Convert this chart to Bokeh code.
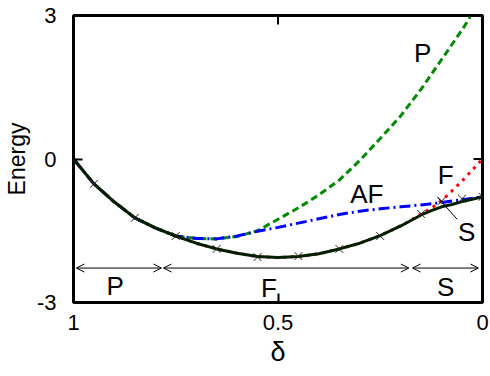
from bokeh.plotting import figure
from bokeh.models import Range1d, FixedTicker, Arrow, OpenHead, ColumnDataSource
from bokeh.embed import file_html
from bokeh.resources import INLINE
from bokeh.core.properties import value

# ---------------- data ----------------
x_tick_values = [1, 0.5, 0]
x_tick_labels = ["1", "0.5", "0"]
y_tick_values = [-3, 0, 3]
y_tick_labels = ["-3", "0", "3"]

# S phase energy (black solid)
delta_S = [1.0, 0.95, 0.9, 0.85, 0.8, 0.75, 0.7, 0.65, 0.6, 0.55, 0.5, 0.45,
           0.4, 0.35, 0.3, 0.25, 0.2, 0.15, 0.125, 0.1, 0.075, 0.05, 0.025, 0.0]
E_S = [0.0, -0.52, -0.90, -1.23, -1.44, -1.61, -1.76, -1.88, -1.97, -2.04, -2.06, -2.04,
       -1.98, -1.88, -1.76, -1.60, -1.40, -1.17, -1.08, -1.00, -0.95, -0.89, -0.84, -0.79]

# F phase energy (red dotted)
delta_F = [1.0, 0.95, 0.9, 0.85, 0.8, 0.75, 0.7, 0.65, 0.6, 0.55, 0.5, 0.45,
           0.4, 0.35, 0.3, 0.25, 0.2, 0.175, 0.15, 0.125, 0.1, 0.075, 0.05, 0.025, 0.0]
E_F = [0.0, -0.52, -0.90, -1.23, -1.44, -1.61, -1.76, -1.88, -1.97, -2.04, -2.06, -2.04,
       -1.98, -1.88, -1.76, -1.60, -1.40, -1.28, -1.15, -1.03, -0.87, -0.67, -0.46, -0.23, 0.0]

# P phase energy (green dashed)
delta_P = [1.0, 0.95, 0.9, 0.85, 0.8, 0.75, 0.7, 0.65, 0.6, 0.55, 0.5, 0.45,
           0.4, 0.35, 0.3, 0.25, 0.2, 0.15, 0.1, 0.05, 0.03]
E_P = [0.0, -0.52, -0.90, -1.23, -1.44, -1.61, -1.66, -1.67, -1.62, -1.50, -1.26, -1.02,
       -0.75, -0.44, -0.03, 0.43, 0.90, 1.46, 2.08, 2.70, 2.97]

# AF phase energy (blue dash-dot)
delta_AF = [1.0, 0.95, 0.9, 0.85, 0.8, 0.75, 0.7, 0.65, 0.6, 0.55, 0.5, 0.45,
            0.4, 0.35, 0.3, 0.25, 0.2, 0.15, 0.1, 0.05, 0.0]
E_AF = [0.0, -0.52, -0.90, -1.23, -1.44, -1.61, -1.66, -1.67, -1.61, -1.51, -1.43, -1.34,
        -1.25, -1.16, -1.09, -1.04, -1.00, -0.96, -0.91, -0.85, -0.79]

# numerical points (crosses)
delta_pts = [0.95, 0.85, 0.75, 0.65, 0.55, 0.45, 0.35, 0.25, 0.15, 0.1, 0.05, 0.0]
E_pts = [-0.52, -1.23, -1.61, -1.88, -2.05, -2.03, -1.88, -1.61, -1.15, -0.88, -0.83, -0.79]

# curve labels
curve_names = ["P", "AF", "F", "S"]
curve_label_delta = [0.146, 0.283, 0.090, 0.039]
curve_label_E = [2.22, -0.73, -0.33, -1.53]

# pointer from the "S" label to its curve
s_pointer_delta = [0.110, 0.062]
s_pointer_E = [-0.80, -1.26]

# phase regions along the bottom
phase_names = ["P", "F", "S"]
phase_from = [0.993, 0.780, 0.171]
phase_to = [0.785, 0.180, 0.010]
phase_arrow_E = [-2.28, -2.28, -2.28]
phase_label_delta = [0.898, 0.522, 0.090]
phase_label_E = [-2.66, -2.70, -2.68]

# mirrored ticks on the top and right edges
mirror_tick_x = [0.5, 0.0]
mirror_tick_y = [3.0, 0.0]
mirror_tick_angle = [1.5708, 0.0]

FONT = "Liberation Sans"

# ---------------- figure ----------------
p = figure(width=490, height=376,
           x_range=Range1d(1, 0), y_range=Range1d(-3, 3),
           output_backend="svg", toolbar_location=None,
           min_border_left=72, min_border_right=8,
           min_border_top=15, min_border_bottom=74)

p.grid.visible = False
p.background_fill_color = "white"
p.border_fill_color = "white"
p.outline_line_color = "black"
p.outline_line_width = 3
p.outline_line_alpha = 1.0

p.xaxis.ticker = FixedTicker(ticks=x_tick_values)
p.xaxis.major_label_overrides = dict(zip(x_tick_values, x_tick_labels))
p.yaxis.ticker = FixedTicker(ticks=y_tick_values)
p.yaxis.major_label_overrides = dict(zip(y_tick_values, y_tick_labels))

for ax in (p.xaxis[0], p.yaxis[0]):
    ax.axis_line_color = None
    ax.major_tick_in = 9
    ax.major_tick_out = 0
    ax.major_tick_line_width = 2
    ax.major_tick_line_color = "black"
    ax.minor_tick_line_color = None
    ax.major_label_text_font = FONT
    ax.major_label_text_font_size = "22px"
    ax.major_label_text_color = "black"
    ax.axis_label_text_font = FONT
    ax.axis_label_text_font_style = "normal"
    ax.axis_label_text_color = "black"

p.xaxis.axis_label = "δ"
p.xaxis.axis_label_text_font_size = "27px"
p.xaxis.major_label_standoff = 12
p.xaxis.axis_label_standoff = 4
p.yaxis.axis_label = "Energy"
p.yaxis.axis_label_text_font_size = "23px"
p.yaxis.major_label_standoff = 17
p.yaxis.axis_label_standoff = 4

# mirrored ticks: dash markers centred on the edge, clipped by the frame
p.scatter(mirror_tick_x, mirror_tick_y, marker="dash", size=18, angle=mirror_tick_angle,
          line_color="black", line_width=2)

# ---------------- curves ----------------
p.line(delta_P, E_P, line_color="#008a00", line_width=3, line_dash="7 4")
p.line(delta_AF, E_AF, line_color="#0000ff", line_width=3, line_dash="11 4 2 4")
p.line(delta_F, E_F, line_color="#ff0000", line_width=3, line_dash="3 5")
p.line(delta_S, E_S, line_color="#002000", line_width=3)
p.scatter(delta_pts, E_pts, marker="x", size=11, line_color="#222222", line_width=1)

p.segment(x0=[s_pointer_delta[0]], y0=[s_pointer_E[0]],
          x1=[s_pointer_delta[1]], y1=[s_pointer_E[1]],
          line_color="black", line_width=1)

p.text(x=curve_label_delta, y=curve_label_E, text=curve_names,
       text_align="center", text_baseline="middle",
       text_font=value(FONT), text_font_size="26px", text_color="black")

# phase arrows and labels
arrow_src = ColumnDataSource(dict(x0=phase_from, x1=phase_to,
                                  y0=phase_arrow_E, y1=phase_arrow_E))
p.add_layout(Arrow(source=arrow_src, x_start="x0", y_start="y0", x_end="x1", y_end="y1",
                   line_color="black", line_width=1,
                   start=OpenHead(size=8, line_width=1, line_color="black"),
                   end=OpenHead(size=8, line_width=1, line_color="black")))
p.text(x=phase_label_delta, y=phase_label_E, text=phase_names,
       text_align="center", text_baseline="middle",
       text_font=value(FONT), text_font_size="26px", text_color="black")

open("out.html", "w").write(file_html(p, INLINE))
